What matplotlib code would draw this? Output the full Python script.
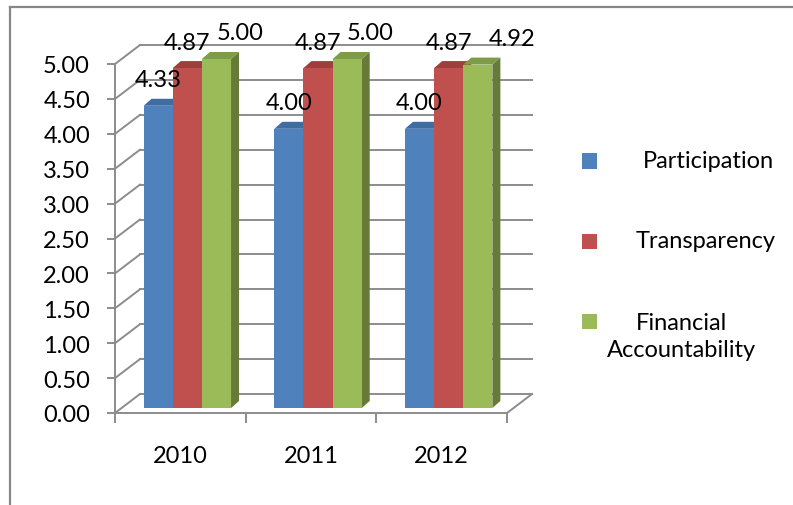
import matplotlib.pyplot as plt
import matplotlib.transforms as mtransforms
from matplotlib.patches import Polygon, Rectangle
from matplotlib.lines import Line2D

plt.rcParams["font.family"] = ["Lato", "DejaVu Sans"]

# ---- data -------------------------------------------------------------
years = ["2010", "2011", "2012"]
series_names = ["Participation", "Transparency", "Financial\nAccountability"]
participation = [4.33, 4.00, 4.00]
transparency = [4.87, 4.87, 4.87]
financial = [5.00, 5.00, 4.92]
y_ticks = [0.0, 0.5, 1.0, 1.5, 2.0, 2.5, 3.0, 3.5, 4.0, 4.5, 5.0]

# ---- style ------------------------------------------------------------
FRONT = ["#4F81BD", "#C0504D", "#9BBB59"]
TOP = ["#3E6CA3", "#9E3F3C", "#7E9B47"]
SIDE = ["#385D8A", "#8C3836", "#657B37"]
GRID = "#8C8C8C"
FS = 17

W, H, DPI = 793, 506, 100
WALL = (25, 19)      # depth of the back wall, pixels
BAR_IN = (7, 5)      # how far the bar front sits behind the front plane
BAR_D = (8, 7)       # bar depth
BAR_W = 0.223
label_dx = [[0, 0, 24], [0, 0, 23], [0, 0, 34]]

fig = plt.figure(figsize=(W / DPI, H / DPI), dpi=DPI)
ax = fig.add_axes([115 / W, (H - 414) / H, 392 / W, 349 / H])
ax.set_xlim(0, 3)
ax.set_ylim(0, 5)
ax.patch.set_visible(False)
for s in ["top", "right"]:
    ax.spines[s].set_visible(False)
for s in ["left", "bottom"]:
    ax.spines[s].set_color(GRID)
    ax.spines[s].set_linewidth(1.4)

ax.set_yticks(y_ticks)
ax.set_yticklabels([f"{v:.2f}" for v in y_ticks], fontsize=FS)
ax.tick_params(axis="y", length=6, width=1.4, color=GRID, pad=12)
ax.set_xticks([0, 1, 2, 3])
ax.set_xticklabels([])
ax.tick_params(axis="x", which="major", length=7, width=1.4, color=GRID)
ax.set_xticks([0.5, 1.5, 2.5], minor=True)
ax.set_xticklabels(years, minor=True, fontsize=FS)
ax.tick_params(axis="x", which="minor", length=0, pad=23)

fig.canvas.draw()
to_disp = ax.transData.transform
ident = mtransforms.IdentityTransform()


def seg(p0, p1, **kw):
    ax.add_line(Line2D([p0[0], p1[0]], [p0[1], p1[1]], transform=ident,
                       clip_on=False, color=GRID, lw=1.4, **kw))


# back wall gridlines and left wall diagonals
for v in y_ticks:
    x0, y0 = to_disp((0, v))
    x1, y1 = to_disp((3, v))
    seg((x0, y0), (x0 + WALL[0], y0 + WALL[1]), zorder=1)
    seg((x0 + WALL[0], y0 + WALL[1]), (x1 + WALL[0], y1 + WALL[1]), zorder=1)
# floor right edge
x1, y1 = to_disp((3, 0))
seg((x1, y1), (x1 + WALL[0], y1 + WALL[1]), zorder=1)

# 3D columns
values = [participation, transparency, financial]
for i in range(len(years)):
    for j, vals in enumerate(values):
        xl = i + 0.5 + (j - 1) * BAR_W - BAR_W / 2
        xr = xl + BAR_W
        (ax0, ay0), (ax1, ay1) = to_disp([(xl, 0), (xr, vals[i])])
        ax0 += BAR_IN[0]; ax1 += BAR_IN[0]
        ay0 += BAR_IN[1]; ay1 += BAR_IN[1]
        dx, dy = BAR_D
        z = 3 + j
        front = Polygon([(ax0, ay0), (ax1, ay0), (ax1, ay1), (ax0, ay1)],
                        closed=True, transform=ident, clip_on=False,
                        facecolor=FRONT[j], edgecolor="none", zorder=z)
        top = Polygon([(ax0, ay1), (ax1, ay1), (ax1 + dx, ay1 + dy), (ax0 + dx, ay1 + dy)],
                      closed=True, transform=ident, clip_on=False,
                      facecolor=TOP[j], edgecolor="none", zorder=z)
        side = Polygon([(ax1, ay0), (ax1 + dx, ay0 + dy), (ax1 + dx, ay1 + dy), (ax1, ay1)],
                       closed=True, transform=ident, clip_on=False,
                       facecolor=SIDE[j], edgecolor="none", zorder=z)
        for p in (side, top, front):
            ax.add_patch(p)
        ax.annotate(f"{vals[i]:.2f}", ((xl + xr) / 2, vals[i]),
                    xytext=(BAR_IN[0] + label_dx[i][j], BAR_IN[1] + 26),
                    textcoords="offset pixels", ha="center", va="center",
                    fontsize=FS, zorder=10, annotation_clip=False)

# legend
leg_y = [162, 242, 322]
leg_tx = [708, 706, 681]
for k, name in enumerate(series_names):
    fig.add_artist(Rectangle(((582) / W, (H - leg_y[k] - 7.5) / H), 15 / W, 15 / H,
                             transform=fig.transFigure, facecolor=FRONT[k],
                             edgecolor="none"))
    ty = leg_y[k] if "\n" not in name else leg_y[k] + 15
    fig.text(leg_tx[k] / W, (H - ty) / H, name, ha="center", va="center",
             multialignment="center", fontsize=FS, linespacing=1.3)

# chart area border (left and top edges)
fig.add_artist(Line2D([9.5 / W, 9.5 / W], [0, (H - 7.5) / H], transform=fig.transFigure,
                      color="#878787", lw=1.6))
fig.add_artist(Line2D([9.5 / W, 1], [(H - 7.5) / H, (H - 7.5) / H], transform=fig.transFigure,
                      color="#878787", lw=1.6))

fig.savefig("out.png", dpi=DPI)
